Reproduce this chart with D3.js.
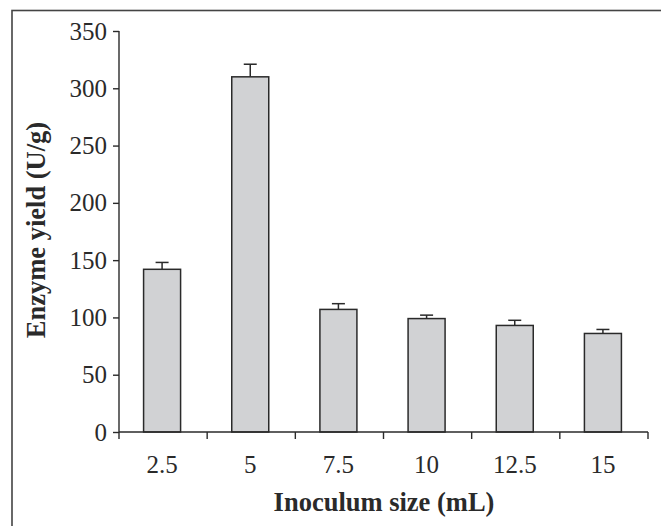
<!DOCTYPE html>
<html>
<head>
<meta charset="utf-8">
<script src="https://cdn.jsdelivr.net/npm/d3@7"></script>
<style>
  html, body { margin: 0; padding: 0; background: #fff; }
  svg { display: block; }
</style>
</head>
<body>
<svg id="chart" width="661" height="526"></svg>
<script>
const categories = ["2.5", "5", "7.5", "10", "12.5", "15"];
const values = [142, 310, 107, 99, 93, 86];
const errors = [6, 11, 5, 3, 4.5, 3.5];
const yTicks = [0, 50, 100, 150, 200, 250, 300, 350];

(function () {
const svg = d3.select("#chart");
const mLeft = 119, mRight = 648, mTop = 31, mBottom = 432;
const ink = "#2a2a2a";
const font = "'Liberation Serif', 'Times New Roman', serif";

// outer frame (top and left visible, rest runs off the picture)
svg.append("rect")
  .attr("x", 12).attr("y", 10.5)
  .attr("width", 700).attr("height", 600)
  .attr("fill", "none").attr("stroke", "#444").attr("stroke-width", 1.6);

const x = d3.scaleBand().domain(categories).range([mLeft, mRight]).padding(0);
const y = d3.scaleLinear().domain([0, 350]).range([mBottom, mTop]);

const barW = 37;
const data = categories.map((c, i) => ({ c, v: values[i], e: errors[i] }));

// error bars (drawn first, bar covers the lower part)
const eb = svg.append("g").attr("stroke", ink).attr("stroke-width", 1.5);
data.forEach(d => {
  const cx = x(d.c) + x.bandwidth() / 2 - 1;
  eb.append("line").attr("x1", cx).attr("x2", cx).attr("y1", y(d.v)).attr("y2", y(d.v + d.e));
  eb.append("line").attr("x1", cx - 6.5).attr("x2", cx + 6.5).attr("y1", y(d.v + d.e)).attr("y2", y(d.v + d.e));
});

svg.append("g").selectAll("rect").data(data).join("rect")
  .attr("x", d => x(d.c) + x.bandwidth() / 2 - 1 - barW / 2)
  .attr("y", d => y(d.v))
  .attr("width", barW)
  .attr("height", d => y(0) - y(d.v))
  .attr("fill", "#d1d2d4")
  .attr("stroke", ink)
  .attr("stroke-width", 1.5);

// y axis
const yAxis = svg.append("g").attr("transform", `translate(${mLeft},0)`)
  .call(d3.axisLeft(y).tickValues(yTicks).tickSize(6).tickPadding(6).tickFormat(d3.format("d")));
yAxis.selectAll("path, line").attr("stroke", ink).attr("stroke-width", 1.4);
yAxis.select(".domain").attr("d", `M0,${mTop}H0V${mBottom}`);
yAxis.selectAll("text").attr("font-size", 25).attr("fill", ink).attr("font-family", font);

// x axis
const xAxis = svg.append("g").attr("transform", `translate(0,${mBottom})`)
  .call(d3.axisBottom(x).tickSize(0).tickPadding(23));
xAxis.select(".domain").attr("d", `M${mLeft},0H${mRight}`).attr("stroke", ink).attr("stroke-width", 1.4);
xAxis.selectAll("text").attr("font-size", 25).attr("fill", ink).attr("font-family", font)
  .attr("dx", -1);
const bounds = categories.map(c => x(c)).concat([mRight]);
xAxis.selectAll(".bound").data(bounds).join("line")
  .attr("class", "bound")
  .attr("x1", d => d).attr("x2", d => d).attr("y1", 0).attr("y2", 7)
  .attr("stroke", ink).attr("stroke-width", 1.4);

// axis titles
svg.append("text")
  .attr("x", 384).attr("y", 511)
  .attr("text-anchor", "middle")
  .attr("font-family", font).attr("font-weight", "bold").attr("font-size", 26.5)
  .attr("fill", ink)
  .text("Inoculum size (mL)");

svg.append("text")
  .attr("transform", "translate(45,230) rotate(-90)")
  .attr("text-anchor", "middle")
  .attr("font-family", font).attr("font-weight", "bold").attr("font-size", 26.5)
  .attr("fill", ink)
  .text("Enzyme yield (U/g)");
})();
</script>
</body>
</html>
